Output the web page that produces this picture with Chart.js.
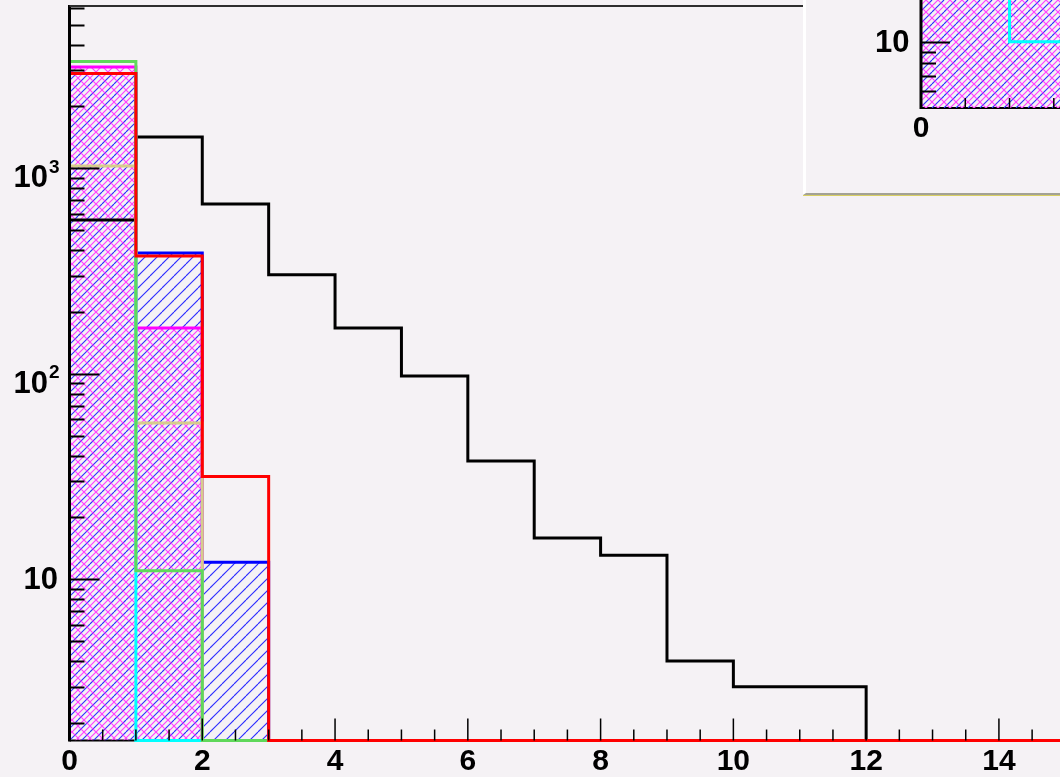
<!DOCTYPE html>
<html>
<head>
<meta charset="utf-8">
<script src="https://cdn.jsdelivr.net/npm/chart.js@4/dist/chart.umd.min.js"></script>
<style>
  html, body { margin: 0; padding: 0; background: #f5f2f5; overflow: hidden; }
  #wrap { position: relative; width: 1060px; height: 777px; }
  #main { position: absolute; left: 0; top: 0; }
  #pad {
    position: absolute; left: 803px; top: 0; width: 254px; height: 193px;
    border-left: 3px solid #ffffff; border-bottom: 2px solid #a3a295;
    background: #f5f2f5; box-shadow: 0 1px 0 #d8cf62;
  }
  #inset { display: block; }
</style>
</head>
<body>
<div id="wrap">
  <canvas id="main" width="1060" height="777"></canvas>
  <div id="pad"><canvas id="inset" width="254" height="193"></canvas></div>
</div>
<script>
// ---- histogram contents (unit-width bins, lower edges in binLow) ----
const binLow        = [0, 1, 2, 3, 4, 5, 6, 7, 8, 9, 10, 11, 12, 13, 14];
const blackCounts   = [560, 1420, 670, 303, 167, 97.6, 37.6, 15.9, 13.1, 4.0, 3.0, 3.0, 0, 0, 0];
const redCounts     = [2890, 374, 31.6, 0, 0, 0, 0, 0, 0, 0, 0, 0, 0, 0, 0];
const greenCounts   = [3310, 11.0, 0, 0, 0, 0, 0, 0, 0, 0, 0, 0, 0, 0, 0];
const cyanCounts    = [2890, 0, 0, 0, 0, 0, 0, 0, 0, 0, 0, 0, 0, 0, 0];
const tanCounts     = [1026, 57.6, 0, 0, 0, 0, 0, 0, 0, 0, 0, 0, 0, 0, 0];
const magentaCounts = [3110, 167, 0, 0, 0, 0, 0, 0, 0, 0, 0, 0, 0, 0, 0];
const blueCounts    = [2890, 387, 12.1, 0, 0, 0, 0, 0, 0, 0, 0, 0, 0, 0, 0];

// ---- zoomed pad contents ----
const insetBinLow   = [0, 1, 2, 3];
const insetMagenta  = [30, 30, 30, 30];
const insetBlue     = [30, 30, 30, 30];
const insetCyan     = [30, 30, 10, 10];

// ---- axis labels ----
const xTickValues      = [0, 2, 4, 6, 8, 10, 12, 14];
const yTickValues      = [10, 100, 1000];
const yTickBase        = ['10', '10', '10'];
const yTickExp         = ['', '2', '3'];
const insetXTickValues = [0];
const insetYTickValues = [10];
const insetYTickBase   = ['10'];
const insetYTickExp    = [''];

// ---- axis ranges ----
const X_MIN = 0, X_MAX = 14.92, Y_MIN = 1.643, Y_MAX = 6163;
const IX_MIN = 0, IX_MAX = 3.14, IY_MIN = 5.03, IY_MAX = 15.4;

const FAMILY = '"Liberation Sans", Arial, Helvetica, sans-serif';
const FONT = { family: FAMILY, size: 30, weight: 'bold' };
Chart.defaults.font.family = FAMILY;

// hatch fill patterns
function hatch(specs, period) {
  const c = document.createElement('canvas');
  c.width = period; c.height = period;
  const g = c.getContext('2d');
  g.lineWidth = 1.15;
  specs.forEach(({ color, dir, offset }) => {
    g.strokeStyle = color;
    g.beginPath();
    for (let k = -2; k <= 2; k++) {
      const x0 = k * period + offset;
      if (dir === '/') { g.moveTo(x0, period); g.lineTo(x0 + period, 0); }
      else { g.moveTo(x0, 0); g.lineTo(x0 + period, period); }
    }
    g.stroke();
  });
  return g.createPattern(c, 'repeat');
}
const BLUE_HATCH = hatch([{ color: '#2f2fff', dir: '/', offset: 6 }], 12);
const MAGENTA_HATCH = hatch([
  { color: '#ff40ff', dir: '/', offset: 0 },
  { color: '#ff40ff', dir: '\\', offset: 0 }
], 12);

// histogram outline: a point at each bin's lower edge plus the upper edge of the last bin;
// empty bins sit on the lower edge of the log axis
function histPoints(lows, counts, floor) {
  const pts = lows.map((x, i) => ({ x, y: Math.max(counts[i], floor) }));
  const last = lows.length - 1;
  pts.push({ x: lows[last] + 1, y: Math.max(counts[last], floor) });
  return pts;
}
function histSet(lows, counts, floor, color, fillPattern) {
  return {
    data: histPoints(lows, counts, floor),
    borderColor: color,
    borderWidth: 3,
    backgroundColor: fillPattern || 'transparent',
    fill: fillPattern ? 'start' : false,
    stepped: 'before',
    pointRadius: 0,
    tension: 0,
    clip: 6
  };
}

// frame, axis lines, inward tick marks and the power-of-ten labels
function axisDecor(o) {
  return {
    id: 'axisDecor',
    beforeDatasetsDraw(chart) {
      const { ctx, chartArea: a } = chart;
      ctx.save();
      ctx.strokeStyle = '#000';
      ctx.lineWidth = 2;
      ctx.beginPath(); ctx.moveTo(a.left, a.bottom); ctx.lineTo(a.right, a.bottom); ctx.stroke();
      ctx.restore();
    },
    afterDatasetsDraw(chart) {
      const { ctx, chartArea: a, scales: { x, y } } = chart;
      ctx.save();
      ctx.strokeStyle = '#000';
      ctx.lineCap = 'butt';
      // x ticks
      ctx.lineWidth = 1.5;
      const nx = Math.floor((x.max - x.min) / o.xMinor + 1e-6);
      for (let i = 1; i <= nx; i++) {
        const v = x.min + i * o.xMinor;
        const px = x.getPixelForValue(v);
        const r = v / o.xMajor;
        const major = Math.abs(r - Math.round(r)) < 1e-6;
        ctx.beginPath();
        ctx.moveTo(px, a.bottom);
        ctx.lineTo(px, a.bottom - (major ? o.xMajorLen : o.xMinorLen));
        ctx.stroke();
      }
      // y ticks (decades and their multiples)
      ctx.lineWidth = 2;
      for (let d = 1; d <= 10000; d *= 10) {
        for (let m = 1; m <= 9; m++) {
          const v = m * d;
          if (v <= y.min || v >= y.max) continue;
          const py = Math.round(y.getPixelForValue(v)) + 0.5;
          ctx.beginPath();
          ctx.moveTo(a.left, py);
          ctx.lineTo(a.left + (m === 1 ? o.yMajorLen : o.yMinorLen), py);
          ctx.stroke();
        }
      }
      // left axis
      ctx.lineWidth = 3;
      ctx.beginPath(); ctx.moveTo(a.left, a.top - (o.topFrame ? 1 : 0)); ctx.lineTo(a.left, a.bottom + 1); ctx.stroke();
      // top frame line
      if (o.topFrame) {
        ctx.strokeStyle = '#2e2e2e';
        ctx.lineWidth = 2;
        ctx.beginPath(); ctx.moveTo(a.left, a.top); ctx.lineTo(a.right, a.top); ctx.stroke();
      }
      // y labels: 10, 10^2, 10^3
      ctx.fillStyle = '#000';
      ctx.textBaseline = 'alphabetic';
      o.yValues.forEach((v, i) => {
        const py = y.getPixelForValue(v);
        const exp = o.yExp[i];
        ctx.font = 'bold 31px ' + FAMILY;
        ctx.textAlign = 'right';
        if (exp) {
          ctx.fillText(o.yBase[i], a.left - 21.5, py + 19);
          ctx.font = 'bold 19px ' + FAMILY;
          ctx.textAlign = 'left';
          ctx.fillText(exp, a.left - 20.5, py + 4.5);
        } else {
          ctx.fillText(o.yBase[i], a.left - 11.5, py + 10);
        }
      });
      ctx.restore();
    }
  };
}

function noPad(s) { s.paddingTop = 0; s.paddingBottom = 0; s.paddingLeft = 0; s.paddingRight = 0; }

function scalesFor(xr, yr, xVals, yWidth, xHeight) {
  return {
    x: {
      type: 'linear', min: xr[0], max: xr[1],
      grid: { display: false, drawTicks: false }, border: { display: false },
      afterBuildTicks: s => { s.ticks = xVals.map(v => ({ value: v })); },
      afterFit: s => { s.height = xHeight; noPad(s); },
      ticks: { color: '#000', font: FONT, padding: 3, maxRotation: 0, autoSkip: false,
               callback: v => String(v) }
    },
    y: {
      type: 'logarithmic', min: yr[0], max: yr[1],
      grid: { display: false, drawTicks: false }, border: { display: false },
      afterFit: s => { s.width = yWidth; noPad(s); },
      ticks: { display: false }
    }
  };
}

const commonOpts = {
  responsive: false, animation: false, devicePixelRatio: 1,
  plugins: { legend: { display: false }, tooltip: { enabled: false } },
  events: []
};

// main pad — datasets listed top layer first
new Chart(document.getElementById('main').getContext('2d'), {
  type: 'line',
  data: {
    datasets: [
      histSet(binLow, redCounts, Y_MIN, '#ff0000'),
      histSet(binLow, greenCounts, Y_MIN, '#5fd85a'),
      histSet(binLow, cyanCounts, Y_MIN, '#00ffff'),
      histSet(binLow, tanCounts, Y_MIN, '#d6cc8c'),
      histSet(binLow, blackCounts, Y_MIN, '#000000'),
      histSet(binLow, magentaCounts, Y_MIN, '#ff00ff', MAGENTA_HATCH),
      histSet(binLow, blueCounts, Y_MIN, '#0000ff', BLUE_HATCH)
    ]
  },
  options: Object.assign({}, commonOpts, {
    layout: { padding: { top: 6, right: 0, left: 0, bottom: 0 } },
    scales: scalesFor([X_MIN, X_MAX], [Y_MIN, Y_MAX], xTickValues, 69.5, 36.5)
  }),
  plugins: [axisDecor({ xMinor: 0.5, xMajor: 2, xMinorLen: 11, xMajorLen: 22,
                        yMinorLen: 15, yMajorLen: 30, topFrame: true,
                        yValues: yTickValues, yBase: yTickBase, yExp: yTickExp })]
});

// zoomed pad in the upper right
new Chart(document.getElementById('inset').getContext('2d'), {
  type: 'line',
  data: {
    datasets: [
      histSet(insetBinLow, insetCyan, IY_MIN, '#00ffff'),
      histSet(insetBinLow, insetMagenta, IY_MIN, '#ff00ff', MAGENTA_HATCH),
      histSet(insetBinLow, insetBlue, IY_MIN, '#0000ff', BLUE_HATCH)
    ]
  },
  options: Object.assign({}, commonOpts, {
    layout: { padding: 0 },
    scales: scalesFor([IX_MIN, IX_MAX], [IY_MIN, IY_MAX], insetXTickValues, 115, 85)
  }),
  plugins: [axisDecor({ xMinor: 1, xMajor: 5, xMinorLen: 10, xMajorLen: 20,
                        yMinorLen: 15, yMajorLen: 29, topFrame: false,
                        yValues: insetYTickValues, yBase: insetYTickBase, yExp: insetYTickExp })]
});
</script>
</body>
</html>
